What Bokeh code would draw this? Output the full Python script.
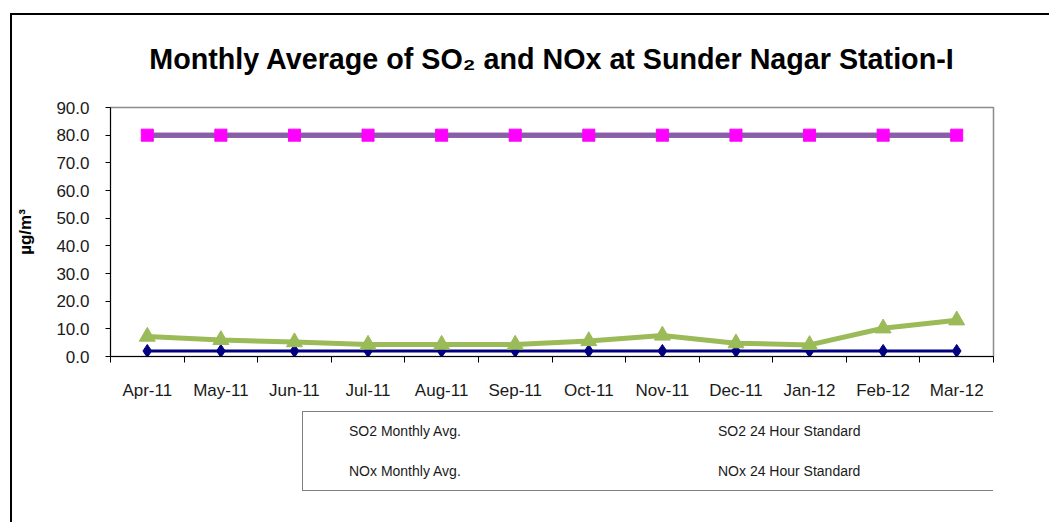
from bokeh.plotting import figure
from bokeh.layouts import column
from bokeh.models import (Range1d, FixedTicker, NumeralTickFormatter, Legend, LegendItem)
from bokeh.embed import file_html
from bokeh.resources import INLINE

# ---- data ----
months = ["Apr-11", "May-11", "Jun-11", "Jul-11", "Aug-11", "Sep-11",
          "Oct-11", "Nov-11", "Dec-11", "Jan-12", "Feb-12", "Mar-12"]
so2_avg = [2.0, 2.0, 2.0, 2.0, 2.0, 2.0, 2.0, 2.0, 2.0, 2.0, 2.0, 2.0]
so2_std = [80.0, 80.0, 80.0, 80.0, 80.0, 80.0, 80.0, 80.0, 80.0, 80.0, 80.0, 80.0]
nox_avg = [7.2, 6.0, 5.2, 4.3, 4.3, 4.3, 5.6, 7.6, 4.8, 4.2, 10.2, 13.1]
nox_std = [80.0, 80.0, 80.0, 80.0, 80.0, 80.0, 80.0, 80.0, 80.0, 80.0, 80.0, 80.0]
y_ticks = [0, 10, 20, 30, 40, 50, 60, 70, 80, 90]
series_labels = ["SO2 Monthly Avg.", "SO2 24 Hour Standard",
                 "NOx Monthly Avg.", "NOx 24 Hour Standard"]

xs = [i + 0.5 for i in range(len(months))]
FONT = "Liberation Sans"

p = figure(frame_width=883, frame_height=249, output_backend="svg", toolbar_location=None,
           x_range=Range1d(0, len(months)), y_range=Range1d(y_ticks[0], y_ticks[-1]),
           min_border_left=110, min_border_right=56, min_border_top=107, min_border_bottom=49,
           background_fill_color="white", border_fill_color="white", border_fill_alpha=0,
           title="Monthly Average of SO\u2082 and NOx at Sunder Nagar Station-I")
p.title.align = "center"
p.title.text_font = FONT
p.title.text_font_size = "28.7px"
p.title.text_font_style = "bold"
p.title.text_color = "black"
p.title.standoff = 66
p.grid.visible = False
p.outline_line_color = "#8c8c8c"
p.outline_line_width = 1.5

# axes
xa = p.xaxis[0]
xa.ticker = FixedTicker(ticks=xs, minor_ticks=list(range(len(months) + 1)))
xa.major_label_overrides = {x: m for x, m in zip(xs, months)}
xa.major_tick_out = 0
xa.major_tick_in = 0
xa.minor_tick_out = 6
xa.minor_tick_in = 0
xa.minor_tick_line_color = "black"
xa.axis_line_color = "black"
xa.major_label_standoff = 18
xa.major_label_text_font = FONT
xa.major_label_text_font_size = "17px"
xa.major_label_text_color = "#1a1a1a"

ya = p.yaxis[0]
ya.ticker = FixedTicker(ticks=y_ticks)
ya.formatter = NumeralTickFormatter(format="0.0")
ya.major_tick_out = 5
ya.major_tick_in = 0
ya.minor_tick_out = 0
ya.minor_tick_in = 0
ya.axis_line_color = "black"
ya.major_tick_line_color = "black"
ya.major_label_standoff = 16
ya.major_label_text_font = FONT
ya.major_label_text_font_size = "17px"
ya.major_label_text_color = "#1a1a1a"
ya.axis_label = "µg/m³"
ya.axis_label_text_font = FONT
ya.axis_label_text_font_style = "bold"
ya.axis_label_text_font_size = "17px"
ya.axis_label_text_color = "black"
ya.axis_label_standoff = 18

# lines
p.line(xs, so2_avg, line_color="#000080", line_width=3)
p.line(xs, so2_std, line_color="#FF00FF", line_width=5)
p.line(xs, nox_avg, line_color="#9BBB59", line_width=5)
p.line(xs, nox_std, line_color="#8064A2", line_width=5)
# markers
p.scatter(xs, nox_std, marker="x", size=17, line_color="#b8aec6", line_width=2)
p.scatter(xs, so2_avg, marker="diamond", size=13, fill_color="#000080", line_color="#000080")
p.scatter(xs, so2_std, marker="square", size=12, fill_color="#FF00FF", line_color="#FF00FF")
p.scatter(xs, nox_avg, marker="triangle", size=16, fill_color="#9BBB59", line_color="#9BBB59")

# ---- legend panel below the chart (key glyphs only, no data) ----
q = figure(width=1049, height=117, output_backend="svg", toolbar_location=None,
           x_range=Range1d(0, 1), y_range=Range1d(0, 1),
           x_axis_location=None, y_axis_location=None,
           min_border_left=0, min_border_right=0, min_border_top=0, min_border_bottom=0,
           background_fill_alpha=0, border_fill_alpha=0)
q.grid.visible = False
q.outline_line_color = None

styles = [("#000080", "diamond", 9, "#000080"),
          ("#FF00FF", "square", 8, "#FF00FF"),
          ("#9BBB59", "triangle", 9, "#9BBB59"),
          ("#8064A2", "x", 9, "#b8aec6")]
items = []
for lab, (lc, mk, ms, mc) in zip(series_labels, styles):
    kl = q.line([], [], line_color=lc, line_width=2)
    km = q.scatter([], [], marker=mk, size=ms, fill_color=mc, line_color=mc, line_width=1.5)
    items.append(LegendItem(label=lab, renderers=[kl, km]))

legend = Legend(items=items, location=(192, 31), orientation="horizontal", nrows=2,
                padding=9, spacing=20, glyph_width=35, glyph_height=20, label_height=20,
                label_width=312, label_standoff=2, margin=0,
                border_line_color="black", border_line_width=1.5, background_fill_alpha=0,
                label_text_font=FONT, label_text_font_size="14px", label_text_color="#1a1a1a")
q.add_layout(legend, "center")

layout = column(p, q, spacing=0, styles={
    "background-color": "white",
    "background-image": "linear-gradient(#000, #000), linear-gradient(#000, #000)",
    "background-position": "10px 13px, 10px 13px",
    "background-size": "2px 3000px, 3000px 2px",
    "background-repeat": "no-repeat",
})

open("out.html", "w").write(file_html(layout, INLINE))
